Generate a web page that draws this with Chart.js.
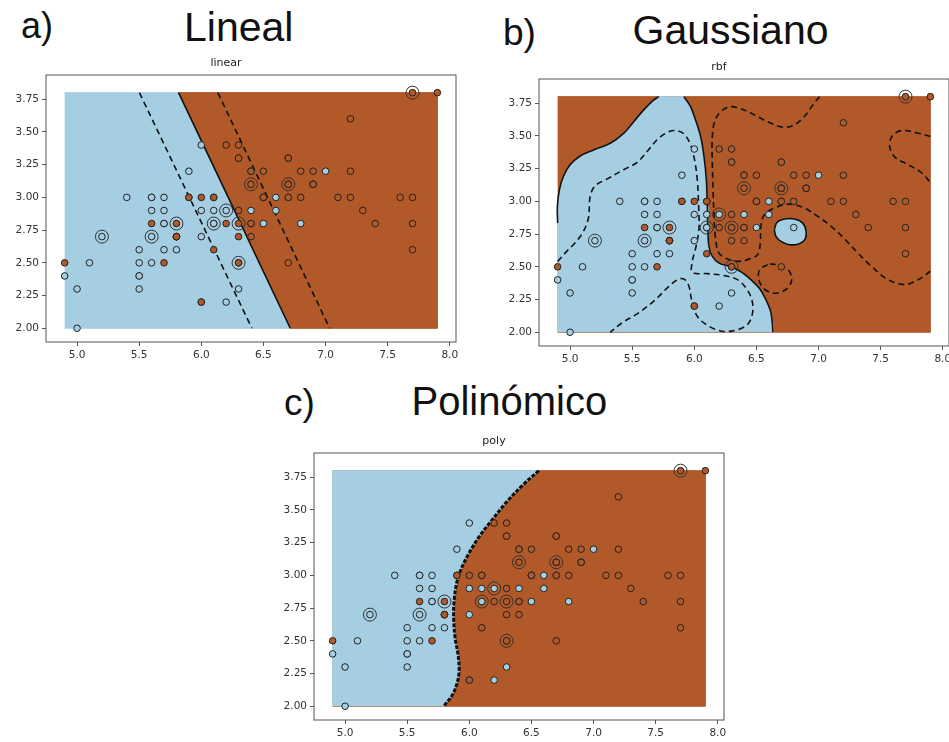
<!DOCTYPE html>
<html>
<head>
<meta charset="utf-8">
<script src="https://cdn.jsdelivr.net/npm/chart.js@4.4.1/dist/chart.umd.min.js"></script>
<style>
  html, body { margin: 0; padding: 0; background: #fff; overflow: hidden; }
  body { width: 949px; height: 742px; position: relative; }
  .lbl { position: absolute; font-family: "Liberation Sans", Arial, sans-serif; color: #111; line-height: 1; white-space: nowrap; }
  .panel { position: absolute; width: 475px; height: 321px; }
</style>
</head>
<body>
<div class="lbl" style="left:21px; top:7.5px; font-size:36px">a)</div>
<div class="lbl" style="left:184px; top:7.3px; font-size:41px">Lineal</div>
<div class="lbl" style="left:503px; top:13.7px; font-size:37px">b)</div>
<div class="lbl" style="left:632.5px; top:10.3px; font-size:41px">Gaussiano</div>
<div class="lbl" style="left:284px; top:383.7px; font-size:37px">c)</div>
<div class="lbl" style="left:411.5px; top:381.1px; font-size:40px">Polinómico</div>

<div class="panel" style="left:-4.3px; top:51px"><canvas id="chartA"></canvas></div>
<div class="panel" style="left:488.5px; top:55px"><canvas id="chartB"></canvas></div>
<div class="panel" style="left:263.5px; top:428.7px"><canvas id="chartC"></canvas></div>

<script>
// iris, sepal length / width: versicolor (blue) and virginica (brown)
var versiX = [7.0,6.4,6.9,5.5,6.5,5.7,6.3,4.9,6.6,5.2,5.0,5.9,6.0,6.1,5.6,6.7,5.6,5.8,6.2,5.6,5.9,6.1,6.3,6.1,6.4,6.6,6.8,6.7,6.0,5.7,5.5,5.5,5.8,6.0,5.4,6.0,6.7,6.3,5.6,5.5,5.5,6.1,5.8,5.0,5.6,5.7,5.7,6.2,5.1,5.7];
var versiY = [3.2,3.2,3.1,2.3,2.8,2.8,3.3,2.4,2.9,2.7,2.0,3.0,2.2,2.9,2.9,3.1,3.0,2.7,2.2,2.5,3.2,2.8,2.5,2.8,2.9,3.0,2.8,3.0,2.9,2.6,2.4,2.4,2.7,2.7,3.0,3.4,3.1,2.3,3.0,2.5,2.6,3.0,2.6,2.3,2.7,3.0,2.9,2.9,2.5,2.8];
var virgX = [6.3,5.8,7.1,6.3,6.5,7.6,4.9,7.3,6.7,7.2,6.5,6.4,6.8,5.7,5.8,6.4,6.5,7.7,7.7,6.0,6.9,5.6,7.7,6.3,6.7,7.2,6.2,6.1,6.4,7.2,7.4,7.9,6.4,6.3,6.1,7.7,6.3,6.4,6.0,6.9,6.7,6.9,5.8,6.8,6.7,6.7,6.3,6.5,6.2,5.9];
var virgY = [3.3,2.7,3.0,2.9,3.0,3.0,2.5,2.9,2.5,3.6,3.2,2.7,3.0,2.5,2.8,3.2,3.0,3.8,2.6,2.2,3.2,2.8,2.8,2.7,3.3,3.2,2.8,3.0,2.8,3.0,2.8,3.8,2.8,2.8,2.6,3.0,3.4,3.1,3.0,3.1,3.1,3.1,2.7,3.2,3.3,3.0,2.5,3.0,3.4,3.0];
// test points (circled)
var testX = [7.7,6.4,6.7,5.2,5.6,5.8,6.2,6.1,6.3,6.3];
var testY = [3.8,3.1,3.1,2.7,2.7,2.8,2.9,2.8,2.8,2.5];

var xTickLabels = ['5.0','5.5','6.0','6.5','7.0','7.5','8.0'];
var yTickLabels = ['2.00','2.25','2.50','2.75','3.00','3.25','3.50','3.75'];

// linear kernel: decision line and margins (x at y = 2.0 and y = 3.8)
var linEdgeX = [5.817, 6.716];
var linLowX = [5.502, 6.407];
var linHighX = [6.133, 7.033];

// rbf kernel: decision boundary pieces
var rbfUpX = [4.9, 4.898, 4.914, 4.946, 5.0, 5.081, 5.189, 5.323, 5.431, 5.512, 5.593, 5.674, 5.714];
var rbfUpY = [2.834, 2.961, 3.088, 3.19, 3.279, 3.347, 3.393, 3.444, 3.52, 3.609, 3.699, 3.775, 3.8];
var rbfDownX = [5.916, 5.97, 6.01, 6.051, 6.078, 6.097, 6.105, 6.11, 6.118, 6.145, 6.199, 6.293, 6.38, 6.455, 6.52, 6.563, 6.6, 6.617, 6.628, 6.632];
var rbfDownY = [3.8, 3.724, 3.622, 3.495, 3.343, 3.165, 2.961, 2.783, 2.656, 2.58, 2.529, 2.5, 2.46, 2.402, 2.34, 2.275, 2.2, 2.148, 2.07, 2.0];
var rbfIslandX = [6.644, 6.665, 6.725, 6.805, 6.873, 6.9, 6.892, 6.846, 6.765, 6.698, 6.657];
var rbfIslandY = [2.783, 2.839, 2.865, 2.865, 2.834, 2.771, 2.712, 2.677, 2.669, 2.694, 2.733];
// rbf margins
var rbfInnerX = [4.9, 4.973, 5.04, 5.108, 5.148, 5.162, 5.202, 5.296, 5.431, 5.539, 5.62, 5.701, 5.781, 5.849, 5.916, 5.97, 6.002, 6.024, 6.035, 6.037, 6.011, 5.984, 5.984, 6.105, 6.24, 6.347, 6.415, 6.463, 6.469, 6.428, 6.334, 6.226, 6.118, 6.024, 5.978, 5.957, 5.924, 5.876, 5.795, 5.687, 5.552, 5.418, 5.323];
var rbfInnerY = [2.54, 2.618, 2.682, 2.771, 2.873, 3.038, 3.119, 3.17, 3.242, 3.297, 3.381, 3.471, 3.526, 3.541, 3.516, 3.432, 3.317, 3.164, 2.961, 2.783, 2.643, 2.542, 2.458, 2.448, 2.433, 2.402, 2.339, 2.249, 2.148, 2.059, 2.016, 2.008, 2.046, 2.122, 2.249, 2.351, 2.402, 2.407, 2.351, 2.249, 2.148, 2.072, 2.0];
var rbfOuterX = [7.008, 6.954, 6.886, 6.805, 6.725, 6.617, 6.509, 6.401, 6.293, 6.213, 6.164, 6.145, 6.145, 6.151, 6.159, 6.172, 6.199, 6.267, 6.347, 6.428, 6.509, 6.531, 6.536, 6.563, 6.644, 6.765, 6.886, 6.994, 7.102, 7.21, 7.317, 7.425, 7.56, 7.695, 7.803, 7.9];
var rbfOuterY = [3.8, 3.737, 3.648, 3.584, 3.566, 3.597, 3.648, 3.699, 3.724, 3.686, 3.61, 3.495, 3.292, 3.088, 2.885, 2.707, 2.605, 2.559, 2.542, 2.555, 2.593, 2.682, 2.809, 2.898, 2.949, 2.979, 2.949, 2.885, 2.809, 2.712, 2.605, 2.504, 2.402, 2.364, 2.402, 2.466];
var rbfCornerX = [7.9, 7.803, 7.668, 7.593, 7.573, 7.614, 7.722, 7.816, 7.878, 7.9];
var rbfCornerY = [3.495, 3.521, 3.541, 3.5, 3.419, 3.338, 3.28, 3.229, 3.17, 3.134];
var rbfLoopX = [6.59, 6.531, 6.515, 6.536, 6.59, 6.671, 6.752, 6.784, 6.765, 6.698, 6.617, 6.59];
var rbfLoopY = [2.516, 2.483, 2.427, 2.364, 2.313, 2.3, 2.339, 2.402, 2.466, 2.509, 2.521, 2.516];

// poly kernel boundary, top to bottom
var polyEdgeX = [6.56, 6.43, 6.3, 6.18, 6.075, 5.995, 5.935, 5.9, 5.878, 5.874, 5.886, 5.91, 5.918, 5.9, 5.86, 5.81, 5.793];
var polyEdgeY = [3.8, 3.69, 3.56, 3.42, 3.29, 3.165, 3.05, 2.95, 2.81, 2.67, 2.52, 2.39, 2.27, 2.17, 2.08, 2.02, 2.0];

var BLUE = '#a6cee3';
var BROWN = '#b15928';

function pts(xs, ys) {
  return xs.map(function (x, i) { return {x: x, y: ys[i]}; });
}

var allX = versiX.concat(virgX), allY = versiY.concat(virgY);
var x0 = Math.min.apply(null, allX), x1 = Math.max.apply(null, allX);
var y0 = Math.min.apply(null, allY), y1 = Math.max.apply(null, allY);
var rect = [{x: x0, y: y0}, {x: x1, y: y0}, {x: x1, y: y1}, {x: x0, y: y1}];

function area(data, color, order) {
  return {data: data, showLine: true, fill: 'shape', tension: 0, backgroundColor: color,
          borderColor: color, borderWidth: 1, pointRadius: 0, order: order};
}
function contour(data, dash, width) {
  return {data: data, showLine: true, fill: false, tension: 0.35, borderColor: '#111',
          borderWidth: width || 1.6, borderDash: dash || [], pointRadius: 0, order: 5};
}
function dots() {
  return [
    {data: pts(testX, testY), pointRadius: 6.5, backgroundColor: 'rgba(0,0,0,0)', borderColor: '#333', borderWidth: 1, order: 0},
    {data: pts(virgX, virgY), pointRadius: 3.3, backgroundColor: BROWN, borderColor: '#222', borderWidth: 1, order: 1},
    {data: pts(versiX, versiY), pointRadius: 3.3, backgroundColor: BLUE, borderColor: '#222', borderWidth: 1, order: 2}
  ];
}

var frame = {
  id: 'frame',
  afterDatasetsDraw: function (chart) {
    var a = chart.chartArea, ctx = chart.ctx;
    ctx.save();
    ctx.strokeStyle = '#555';
    ctx.lineWidth = 1;
    ctx.strokeRect(a.left, a.top, a.right - a.left, a.bottom - a.top);
    ctx.restore();
  }
};

function makeChart(id, title, datasets) {
  var tickFont = {family: 'DejaVu Sans', size: 10.5};
  return new Chart(document.getElementById(id), {
    type: 'scatter',
    data: {datasets: datasets},
    options: {
      responsive: true,
      maintainAspectRatio: false,
      animation: false,
      events: [],
      layout: {padding: {left: 0, top: 5.8, right: 15, bottom: 0}},
      plugins: {
        legend: {display: false},
        tooltip: {enabled: false},
        title: {display: true, text: title, color: '#222', font: {family: 'DejaVu Sans', size: 11, weight: 'normal'},
                padding: {top: 0, bottom: 5}}
      },
      scales: {
        x: {
          type: 'linear', min: 4.75, max: 8.05,
          afterBuildTicks: function (s) { s.ticks = xTickLabels.map(function (t) { return {value: parseFloat(t)}; }); },
          afterFit: function (s) { s.height = 30; },
          ticks: {color: '#333', font: tickFont, padding: 3, maxRotation: 0, autoSkip: false,
                  callback: function (v, i) { return xTickLabels[i]; }},
          grid: {drawOnChartArea: false, drawTicks: true, tickLength: 4, color: '#555'},
          border: {display: false}
        },
        y: {
          type: 'linear', min: 1.895, max: 3.935,
          afterBuildTicks: function (s) { s.ticks = yTickLabels.map(function (t) { return {value: parseFloat(t)}; }); },
          afterFit: function (s) { s.width = 50; },
          ticks: {color: '#333', font: tickFont, padding: 3, autoSkip: false,
                  callback: function (v, i) { return yTickLabels[i]; }},
          grid: {drawOnChartArea: false, drawTicks: true, tickLength: 4, color: '#555'},
          border: {display: false}
        }
      }
    },
    plugins: [frame]
  });
}

// a) linear
var linBrown = [{x: linEdgeX[1], y: y0}, {x: x1, y: y0}, {x: x1, y: y1}, {x: linEdgeX[0], y: y1}];
makeChart('chartA', 'linear', dots().concat([
  contour([{x: linEdgeX[0], y: y1}, {x: linEdgeX[1], y: y0}], [], 1.6),
  contour([{x: linLowX[0], y: y1}, {x: linLowX[1], y: y0}], [6, 4]),
  contour([{x: linHighX[0], y: y1}, {x: linHighX[1], y: y0}], [6, 4]),
  area(linBrown, BROWN, 9),
  area(rect, BLUE, 10)
]));

// b) rbf
var rbfBlue = [{x: x0, y: y0}].concat(pts(rbfUpX, rbfUpY), pts(rbfDownX, rbfDownY));
makeChart('chartB', 'rbf', dots().concat([
  contour(pts(rbfUpX, rbfUpY), [], 1.6),
  contour(pts(rbfDownX, rbfDownY), [], 1.6),
  contour(pts(rbfIslandX.concat([rbfIslandX[0]]), rbfIslandY.concat([rbfIslandY[0]])), [], 1.6),
  contour(pts(rbfInnerX, rbfInnerY), [6, 4]),
  contour(pts(rbfOuterX, rbfOuterY), [6, 4]),
  contour(pts(rbfCornerX, rbfCornerY), [6, 4]),
  contour(pts(rbfLoopX, rbfLoopY), [6, 4]),
  area(pts(rbfIslandX, rbfIslandY), BLUE, 9),
  area(rbfBlue, BLUE, 9),
  area(rect, BROWN, 10)
]));

// c) poly
var polyBlue = [{x: x0, y: y0}, {x: x0, y: y1}].concat(pts(polyEdgeX, polyEdgeY));
makeChart('chartC', 'poly', dots().concat([
  contour(pts(polyEdgeX, polyEdgeY), [4, 1.5], 3),
  area(polyBlue, BLUE, 9),
  area(rect, BROWN, 10)
]));
</script>
</body>
</html>
